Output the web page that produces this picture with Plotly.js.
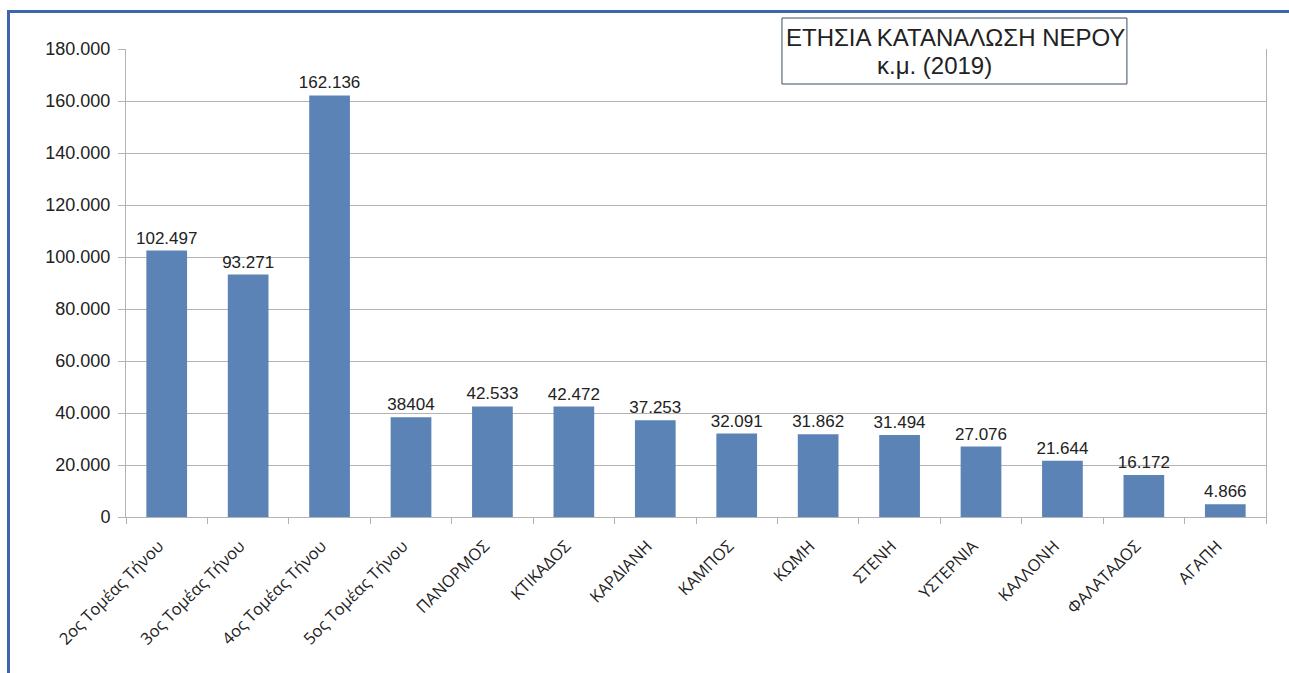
<!DOCTYPE html>
<html>
<head>
<meta charset="utf-8">
<script src="https://cdn.plot.ly/plotly-3.0.1.min.js"></script>
<style>
html,body{margin:0;padding:0;background:#ffffff;}
#frame{position:absolute;left:7px;top:10px;width:1282px;height:663px;border-top:3px solid #3f66aa;border-left:3px solid #3f66aa;box-sizing:border-box;}
#chart{position:absolute;left:0;top:0;width:1289px;height:673px;}
</style>
</head>
<body>
<div id="frame"></div>
<div id="chart"></div>
<script>
const categories = ["2ος Τομέας Τήνου","3ος Τομέας Τήνου","4ος Τομέας Τήνου","5ος Τομέας Τήνου","ΠΑΝΟΡΜΟΣ","ΚΤΙΚΑΔΟΣ","ΚΑΡΔΙΑΝΗ","ΚΑΜΠΟΣ","ΚΩΜΗ","ΣΤΕΝΗ","ΥΣΤΕΡΝΙΑ","ΚΑΛΛΟΝΗ","ΦΑΛΑΤΑΔΟΣ","ΑΓΑΠΗ"];
const values = [102497, 93271, 162136, 38404, 42533, 42472, 37253, 32091, 31862, 31494, 27076, 21644, 16172, 4866];
const valueLabels = ["102.497","93.271","162.136","38404","42.533","42.472","37.253","32.091","31.862","31.494","27.076","21.644","16.172","4.866"];
const yTickValues = [0,20000,40000,60000,80000,100000,120000,140000,160000,180000];
const yTickLabels = ["0","20.000","40.000","60.000","80.000","100.000","120.000","140.000","160.000","180.000"];
const titleLine1 = "ΕΤΗΣΙΑ ΚΑΤΑΝΑΛΩΣΗ ΝΕΡΟΥ";
const titleLine2 = "κ.μ. (2019)";

const trace = {
  type: "bar",
  x: categories,
  y: values,
  text: valueLabels,
  textposition: "outside",
  constraintext: "none",
  cliponaxis: false,
  textfont: {family: "Liberation Sans, Arial, sans-serif", size: 17, color: "#222222"},
  marker: {color: "#5b83b5"},
  hoverinfo: "x+y"
};

const layout = {
  width: 1289, height: 673,
  paper_bgcolor: "rgba(0,0,0,0)",
  plot_bgcolor: "rgba(0,0,0,0)",
  margin: {l: 126, r: 23, t: 49, b: 156},
  bargap: 0.5,
  showlegend: false,
  font: {family: "Liberation Sans, Arial, sans-serif", color: "#222222"},
  xaxis: {
    type: "category",
    tickangle: -45,
    automargin: false,
    tickfont: {family: "Open Sans, DejaVu Sans, sans-serif", size: 16.5, color: "#222222"},
    ticklabelstandoff: 12,
    ticklabelshift: -8,
    showline: true, linecolor: "#b3b3b3", linewidth: 1,
    ticks: "outside", tickson: "boundaries", ticklen: 6, tickcolor: "#b3b3b3",
    showgrid: false
  },
  yaxis: {
    range: [0, 180000],
    tickvals: yTickValues,
    ticktext: yTickLabels,
    automargin: false,
    tickfont: {family: "Liberation Sans, Arial, sans-serif", size: 18, color: "#222222"},
    ticklabelstandoff: 4,
    showline: true, mirror: true, linecolor: "#b3b3b3", linewidth: 1,
    ticks: "outside", ticklen: 7, tickcolor: "#b3b3b3",
    showgrid: true, gridcolor: "#b3b3b3", gridwidth: 1,
    zeroline: false
  },
  shapes: [{
    type: "rect", xref: "paper", yref: "paper",
    x0: 0.5754, x1: 0.878, y0: 0.9252, y1: 1.0662,
    line: {color: "#3c4e62", width: 1},
    fillcolor: "#ffffff", layer: "above"
  }],
  annotations: [{
    xref: "paper", yref: "paper",
    x: 0.7272, y: 1.0256,
    xanchor: "center", yanchor: "middle",
    text: titleLine1, showarrow: false,
    font: {family: "Liberation Sans, Arial, sans-serif", size: 24, color: "#222222"}
  }, {
    xref: "paper", yref: "paper",
    x: 0.7088, y: 0.9637,
    xanchor: "center", yanchor: "middle",
    text: titleLine2, showarrow: false,
    font: {family: "Liberation Sans, Arial, sans-serif", size: 24, color: "#222222"}
  }]
};

Plotly.newPlot("chart", [trace], layout, {displayModeBar: false, staticPlot: true});
</script>
</body>
</html>
